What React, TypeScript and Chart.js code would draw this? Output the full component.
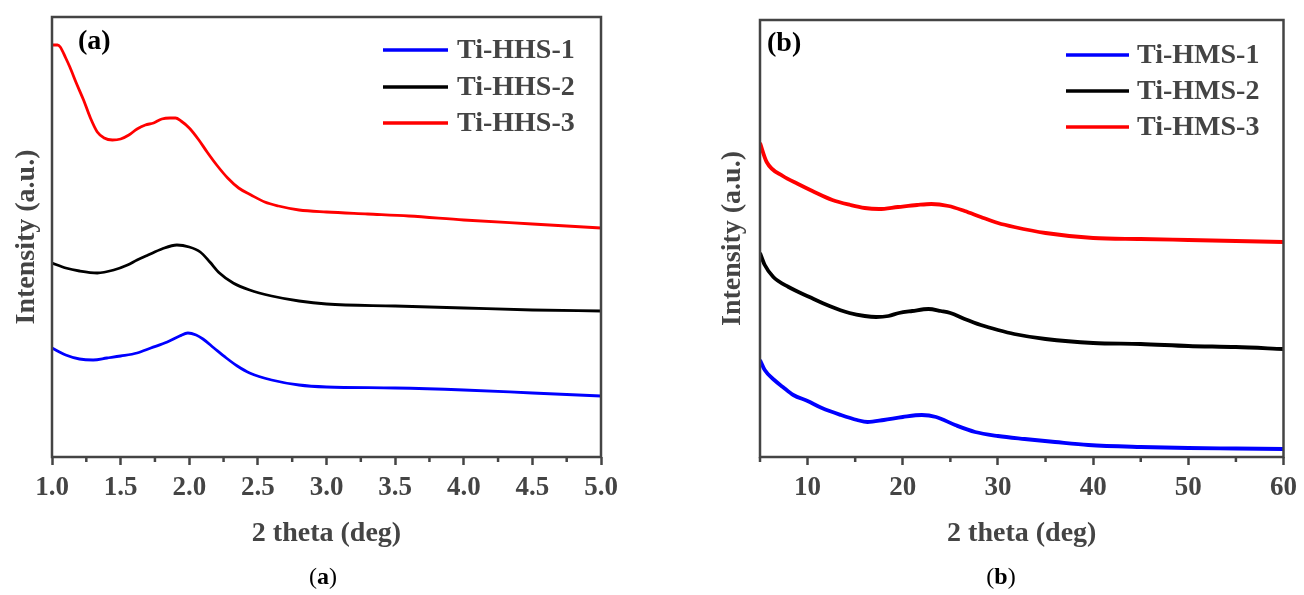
import React, { useEffect, useRef } from 'react';
import { Chart, registerables } from 'chart.js';

Chart.register(...registerables);

const FONT = "'Liberation Serif', 'Times New Roman', serif";
const GRAY = '#444444';

// ---------- Panel (a) : low-angle XRD ----------
const A_LABELS = ['Ti-HHS-1', 'Ti-HHS-2', 'Ti-HHS-3'];
const A_COLORS = ['#0000ff', '#000000', '#ff0000'];

const A1_X = [1.0, 1.1, 1.2, 1.3, 1.4, 1.5, 1.62, 1.72, 1.84, 1.93, 1.99, 2.05, 2.1, 2.18, 2.27, 2.35, 2.44, 2.6, 2.8, 3.0, 3.5, 4.0, 4.5, 5.0];
const A1_Y = [109, 102, 98, 97, 99, 101, 104, 109, 115, 121, 124, 122, 118, 109, 99, 91, 84, 77, 72, 70, 69, 67, 64, 61];

const A2_X = [1.0, 1.1, 1.2, 1.33, 1.45, 1.55, 1.62, 1.7, 1.8, 1.91, 2.0, 2.08, 2.15, 2.22, 2.32, 2.44, 2.6, 2.8, 3.0, 3.5, 4.0, 4.5, 5.0];
const A2_Y = [194, 189, 186, 184, 187, 192, 197, 202, 208, 212, 210, 205, 195, 184, 174, 167, 161, 156, 153, 151, 149, 147, 146];

const A3_X = [1.0, 1.04, 1.06, 1.1, 1.13, 1.18, 1.23, 1.28, 1.33, 1.38, 1.44, 1.5, 1.56, 1.62, 1.68, 1.74, 1.8, 1.86, 1.9, 1.94, 2.0, 2.07, 2.13, 2.2, 2.28, 2.36, 2.45, 2.55, 2.65, 2.8, 3.0, 3.3, 3.6, 4.0, 4.5, 5.0];
const A3_Y = [412, 412, 410, 399, 390, 373, 357, 339, 325, 319, 317, 318, 322, 328, 332, 334, 338, 339, 339, 336, 329, 317, 305, 292, 279, 269, 262, 255, 251, 247, 245, 243, 241, 237, 233, 229];

const A_MAJOR = [1.0, 1.5, 2.0, 2.5, 3.0, 3.5, 4.0, 4.5, 5.0];
const A_MAJOR_LABELS = ['1.0', '1.5', '2.0', '2.5', '3.0', '3.5', '4.0', '4.5', '5.0'];
const A_MINOR = [1.25, 1.75, 2.25, 2.75, 3.25, 3.75, 4.25, 4.75];

// ---------- Panel (b) : wide-angle XRD ----------
const B_LABELS = ['Ti-HMS-1', 'Ti-HMS-2', 'Ti-HMS-3'];
const B_COLORS = ['#0000ff', '#000000', '#ff0000'];

const B1_X = [5, 5.5, 6.5, 7.4, 8.5, 10, 11.5, 13.5, 15.2, 16.3, 18, 20, 22, 23.5, 25.5, 27.6, 30, 32.8, 36, 39.5, 45, 50, 55, 60];
const B1_Y = [97, 87, 77, 70, 62, 56, 49, 42, 37, 35, 37, 40, 42, 40, 32, 25, 21, 18, 15, 12, 10, 9, 8.5, 8];

const B2_X = [5, 5.5, 6.4, 8, 10.2, 12.3, 14.4, 16, 17.2, 18.5, 19.6, 21, 22.7, 24, 25, 26.5, 28.2, 30, 31.7, 35, 40, 45, 50, 55, 60];
const B2_Y = [204, 192, 180, 170, 160, 151, 144, 141, 140, 141, 144, 146, 148, 146, 144, 138, 132, 127, 123, 118, 114, 113, 111, 110, 108];

const B3_X = [5, 5.7, 7.4, 9, 10.5, 12.6, 14.5, 16, 17.5, 19.5, 21.5, 23, 24.8, 26.5, 28.2, 30, 31.7, 35, 40, 45, 50, 55, 60];
const B3_Y = [314, 295, 281, 273, 266, 257, 252, 249, 248, 250, 252, 253, 251, 246, 240, 234, 230, 224, 219, 218, 217, 216, 215];

const B_MAJOR = [10, 20, 30, 40, 50, 60];
const B_MAJOR_LABELS = ['10', '20', '30', '40', '50', '60'];
const B_MINOR = [5, 15, 25, 35, 45, 55];

const X_TITLE = '2 theta (deg)';
const Y_TITLE = 'Intensity (a.u.)';

type PanelProps = {
  tag: string;
  labels: string[];
  colors: string[];
  xs: number[][];
  ys: number[][];
  xMin: number;
  xMax: number;
  yMax: number;
  major: number[];
  majorLabels: string[];
  minor: number[];
  lineWidth: number;
  geom: {
    left: number;
    width: number;
    padL: number;
    padR: number;
    padT: number;
    padB: number;
    yWidth: number;
    xHeight: number;
    legLine: [number, number];
    legText: number;
    legRows: number[];
    tagX: number;
    tagY: number;
  };
};

function Panel(p: PanelProps) {
  const ref = useRef<HTMLCanvasElement | null>(null);
  useEffect(() => {
    if (!ref.current) return;
    const g = p.geom;
    const decor = {
      id: 'decor',
      afterDraw(chart: any) {
        const { ctx, chartArea } = chart;
        const xs = chart.scales.x;
        ctx.save();
        ctx.strokeStyle = GRAY;
        ctx.lineWidth = 2.5;
        p.minor.forEach((v) => {
          const px = xs.getPixelForValue(v);
          ctx.beginPath();
          ctx.moveTo(px, chartArea.bottom);
          ctx.lineTo(px, chartArea.bottom + 5);
          ctx.stroke();
        });
        ctx.strokeRect(chartArea.left, chartArea.top, chartArea.right - chartArea.left, chartArea.bottom - chartArea.top);
        chart.data.datasets.forEach((ds: any, i: number) => {
          const y = g.legRows[i];
          ctx.strokeStyle = ds.borderColor;
          ctx.lineWidth = 3.5;
          ctx.beginPath();
          ctx.moveTo(g.legLine[0], y);
          ctx.lineTo(g.legLine[1], y);
          ctx.stroke();
          ctx.fillStyle = GRAY;
          ctx.font = `bold 28px ${FONT}`;
          ctx.textBaseline = 'middle';
          ctx.textAlign = 'left';
          ctx.fillText(ds.label, g.legText, y + 1);
        });
        ctx.fillStyle = '#000000';
        ctx.font = `bold 28px ${FONT}`;
        ctx.textBaseline = 'alphabetic';
        ctx.fillText(p.tag, g.tagX, g.tagY);
        ctx.restore();
      },
    };
    const titleFont = { family: FONT, size: 28, weight: 'bold' as const };
    const tickFont = { family: FONT, size: 27, weight: 'bold' as const };
    const chart = new Chart(ref.current, {
      type: 'line',
      data: {
        datasets: p.labels.map((label, i) => ({
          label,
          data: p.xs[i].map((x, j) => ({ x, y: p.ys[i][j] })),
          borderColor: p.colors[i],
          backgroundColor: p.colors[i],
          borderWidth: p.lineWidth,
          pointRadius: 0,
          fill: false,
          cubicInterpolationMode: 'monotone' as const,
        })),
      },
      options: {
        responsive: false,
        animation: false,
        devicePixelRatio: 1,
        layout: { padding: { left: g.padL, right: g.padR, top: g.padT, bottom: g.padB } },
        plugins: { legend: { display: false }, tooltip: { enabled: false } },
        scales: {
          x: {
            type: 'linear',
            min: p.xMin,
            max: p.xMax,
            afterFit: (s: any) => {
              s.height = g.xHeight;
            },
            afterBuildTicks: (s: any) => {
              s.ticks = p.major.map((v) => ({ value: v }));
            },
            ticks: {
              autoSkip: false,
              maxRotation: 0,
              minRotation: 0,
              padding: 7,
              color: GRAY,
              font: tickFont,
              callback: (_v: any, i: number) => p.majorLabels[i],
            },
            grid: {
              display: true,
              drawOnChartArea: false,
              drawTicks: true,
              tickLength: 8,
              tickWidth: 2.5,
              tickColor: GRAY,
            },
            border: { display: false },
            title: { display: true, text: X_TITLE, color: GRAY, font: titleFont, padding: 0 },
          },
          y: {
            type: 'linear',
            min: 0,
            max: p.yMax,
            afterFit: (s: any) => {
              s.width = g.yWidth;
            },
            ticks: { display: false },
            grid: { display: false },
            border: { display: false },
            title: { display: true, text: Y_TITLE, color: GRAY, font: titleFont, padding: 0 },
          },
        },
      },
      plugins: [decor],
    });
    return () => chart.destroy();
  }, []);
  return (
    <canvas
      ref={ref}
      width={p.geom.width}
      height={595}
      style={{ position: 'absolute', left: p.geom.left, top: 0, width: p.geom.width, height: 595 }}
    />
  );
}

const captionStyle: React.CSSProperties = {
  position: 'absolute',
  top: 564,
  width: 60,
  textAlign: 'center',
  fontFamily: FONT,
  fontSize: 24,
  lineHeight: '24px',
  color: '#000',
};

export default function App() {
  return (
    <div style={{ position: 'fixed', left: 0, top: 0, width: 1304, height: 595, background: '#fff' }}>
      <Panel
        tag="(a)"
        labels={A_LABELS}
        colors={A_COLORS}
        xs={[A1_X, A2_X, A3_X]}
        ys={[A1_Y, A2_Y, A3_Y]}
        xMin={1}
        xMax={5}
        yMax={440}
        major={A_MAJOR}
        majorLabels={A_MAJOR_LABELS}
        minor={A_MINOR}
        lineWidth={2.8}
        geom={{
          left: 0,
          width: 640,
          padL: 10,
          padR: 39,
          padT: 17,
          padB: 44,
          yWidth: 42,
          xHeight: 94,
          legLine: [383, 448],
          legText: 457,
          legRows: [50, 87, 123],
          tagX: 78,
          tagY: 49,
        }}
      />
      <Panel
        tag="(b)"
        labels={B_LABELS}
        colors={B_COLORS}
        xs={[B1_X, B2_X, B3_X]}
        ys={[B1_Y, B2_Y, B3_Y]}
        xMin={5}
        xMax={60}
        yMax={437}
        major={B_MAJOR}
        majorLabels={B_MAJOR_LABELS}
        minor={B_MINOR}
        lineWidth={3.8}
        geom={{
          left: 652,
          width: 652,
          padL: 64,
          padR: 15,
          padT: 20,
          padB: 44,
          yWidth: 44,
          xHeight: 94,
          legLine: [414, 477],
          legText: 485,
          legRows: [55, 91, 127],
          tagX: 115,
          tagY: 51,
        }}
      />
      <div style={{ ...captionStyle, left: 323 - 30 }}>
        (<b>a</b>)
      </div>
      <div style={{ ...captionStyle, left: 1001 - 30 }}>
        (<b>b</b>)
      </div>
    </div>
  );
}
